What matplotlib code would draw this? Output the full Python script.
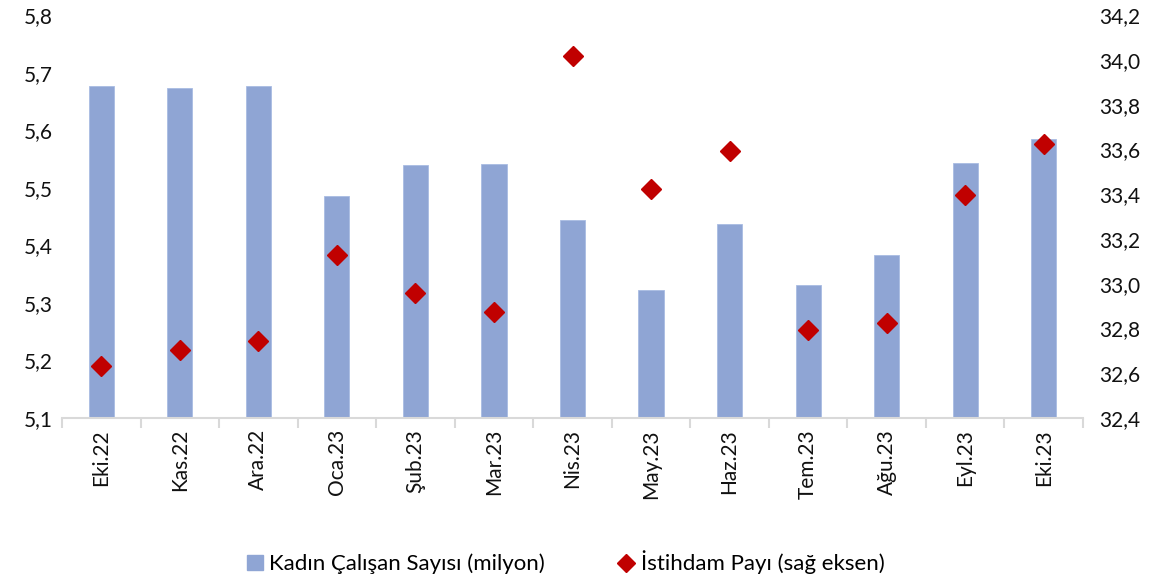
import matplotlib
matplotlib.use("Agg")
import matplotlib.pyplot as plt
from matplotlib.ticker import FuncFormatter, MultipleLocator
from matplotlib.lines import Line2D
from matplotlib.patches import Patch
import numpy as np

plt.rcParams['font.family'] = ['Lato', 'DejaVu Sans']

months = ["Eki.22", "Kas.22", "Ara.22", "Oca.23", "Şub.23", "Mar.23", "Nis.23",
          "May.23", "Haz.23", "Tem.23", "Ağu.23", "Eyl.23", "Eki.23"]
kadin_calisan = [5.676, 5.673, 5.677, 5.486, 5.539, 5.542, 5.444,
                 5.322, 5.437, 5.331, 5.383, 5.543, 5.585]
istihdam_payi = [32.63, 32.705, 32.745, 33.13, 32.96, 32.873, 34.017,
                 33.423, 33.594, 32.792, 32.824, 33.397, 33.622]

bar_color = "#8FA5D4"
dot_color = "#C00000"

fig = plt.figure(figsize=(11.62, 5.81), dpi=100)
ax = fig.add_axes([0.0534, 0.2806, 0.8786, 0.6934])
x = np.arange(len(months))

ax.bar(x, kadin_calisan, width=0.32, color=bar_color, edgecolor="#A9BCE3", linewidth=0.6, zorder=2)
ax.set_ylim(5.1, 5.8)
ax.set_xlim(-0.5, len(months) - 0.5)
ax.yaxis.set_major_locator(MultipleLocator(0.1))

comma = lambda fmt: FuncFormatter(lambda v, p: (fmt % v).replace(".", ","))
ax.yaxis.set_major_formatter(comma("%.1f"))

ax2 = ax.twinx()
ax2.plot(x, istihdam_payi, linestyle="none", marker="D", ms=10.5, color=dot_color, zorder=3)
ax2.set_ylim(32.4, 34.2)
ax2.yaxis.set_major_locator(MultipleLocator(0.2))
ax2.yaxis.set_major_formatter(comma("%.1f"))

for a in (ax, ax2):
    for s in ["top", "left", "right"]:
        a.spines[s].set_visible(False)
    a.tick_params(axis="y", length=0, labelsize=15, colors="#111111")
ax2.spines["bottom"].set_visible(False)
ax.spines["bottom"].set_color("#D9D9D9")
ax.spines["bottom"].set_linewidth(1.5)
ax.tick_params(axis="y", pad=7)
ax2.tick_params(axis="y", pad=12)

ax.set_xticks(x)
ax.set_xticklabels(months, rotation=90, fontsize=15, color="#111111")
ax.tick_params(axis="x", which="major", length=0, pad=8)
ax.set_xticks(np.arange(-0.5, len(months), 1), minor=True)
ax.tick_params(axis="x", which="minor", length=7, width=1.5, color="#D9D9D9")

handles = [Patch(facecolor=bar_color, edgecolor=bar_color),
           Line2D([], [], linestyle="none", marker="D", ms=9, color=dot_color)]
fig.legend(handles, ["Kadın Çalışan Sayısı (milyon)", "İstihdam Payı (sağ eksen)"],
           loc="center", bbox_to_anchor=(0.487, 0.032), ncol=2, frameon=False,
           fontsize=16, columnspacing=3.3, handlelength=0.7, handletextpad=0.3)

fig.savefig("out.png", dpi=100)
